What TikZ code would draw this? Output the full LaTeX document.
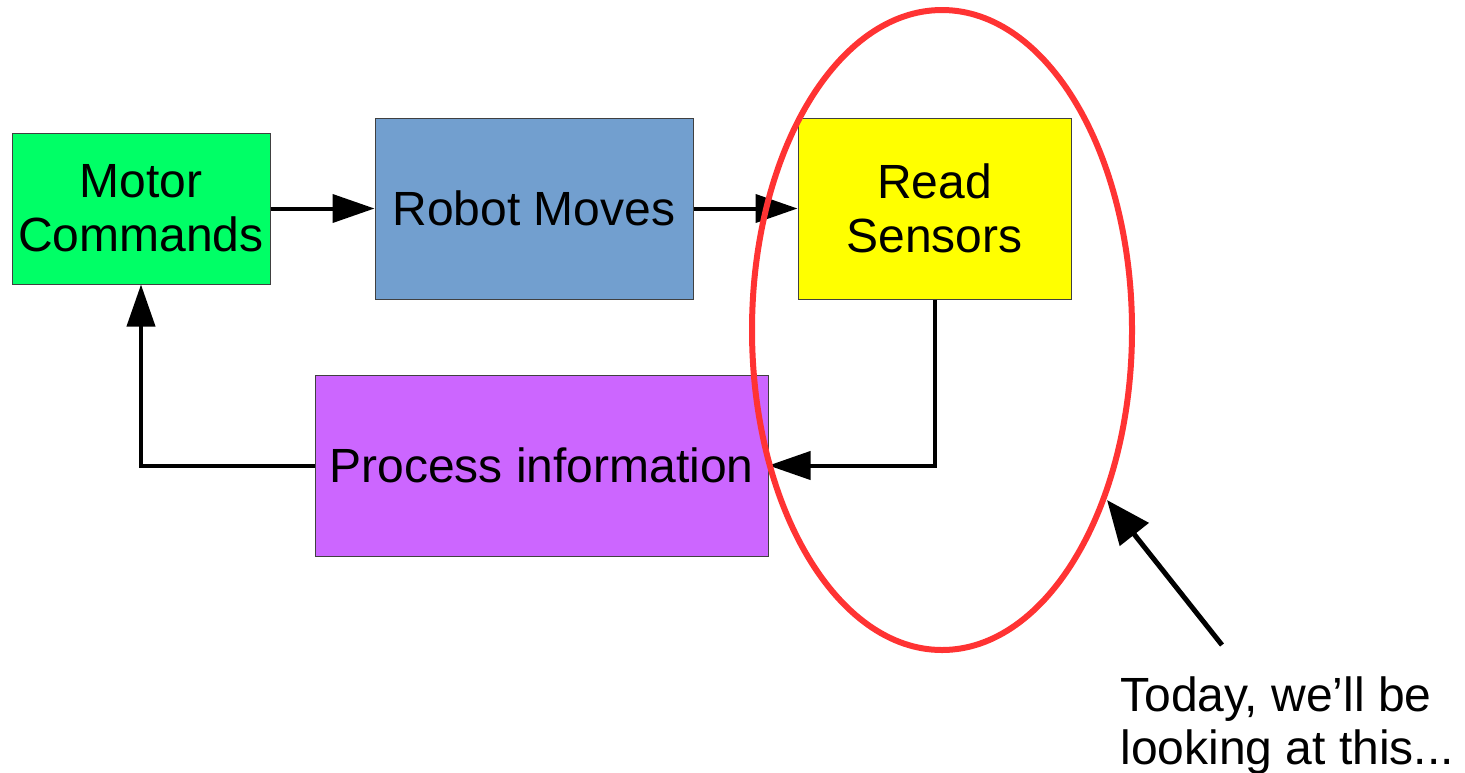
\documentclass[tikz,border=0pt]{standalone}
\usepackage{fontspec}
\setmainfont{Liberation Sans}
\usetikzlibrary{arrows.meta}

\definecolor{cmdgreen}{HTML}{00FF66}
\definecolor{moveblue}{HTML}{729FCF}
\definecolor{senseyellow}{HTML}{FFFF00}
\definecolor{procpurple}{HTML}{CC66FF}
\definecolor{ringred}{HTML}{FF3333}

\tikzset{
	stagebox/.style={draw=black!75, line width=.5pt, inner sep=0, align=center,
		font=\fontsize{24}{27}\selectfont},
	flow/.style={line width=2pt, -{Triangle[length=21pt, width=14pt]}},
}

\begin{document}
	\begin{tikzpicture}[x=.5pt, y=-.5pt]
		\useasboundingbox (0, 0) rectangle (1465, 772);

		\node[stagebox, fill=cmdgreen, minimum width=129pt, minimum height=75.5pt] (motor) at (141, 208.5) {Motor\\Commands};
		\node[stagebox, fill=moveblue, minimum width=159pt, minimum height=90.5pt] (robot) at (534, 208.5) {Robot Moves};
		\node[stagebox, fill=senseyellow, minimum width=136.5pt, minimum height=90.5pt] (read) at (934.5, 208.5) {Read\\Sensors};
		\node[stagebox, fill=procpurple, minimum width=226.5pt, minimum height=90.5pt] (proc) at (541.5, 465.5) {Process information};

		\draw[flow] (motor) -- (robot);
		\draw[flow] (robot) -- (read);
		\draw[flow] (read.south) |- (proc.east);
		\draw[flow] (proc.west) -| (motor.south);

		\draw[ringred, line width=3pt] (942, 330) ellipse [x radius=190, y radius=320];

		\coordinate (tip) at (1107, 500);
		\coordinate (tail) at (1222, 645);
		\draw[line width=2.5pt, -{Triangle[length=22pt, width=18pt]}] (tail) -- (tip);

		\node[inner sep=0, anchor=north west, align=left, font=\fontsize{24}{26.5}\selectfont] (note) at (1120, 676) {Today, we’ll be\\looking at this...};
	\end{tikzpicture}
\end{document}
